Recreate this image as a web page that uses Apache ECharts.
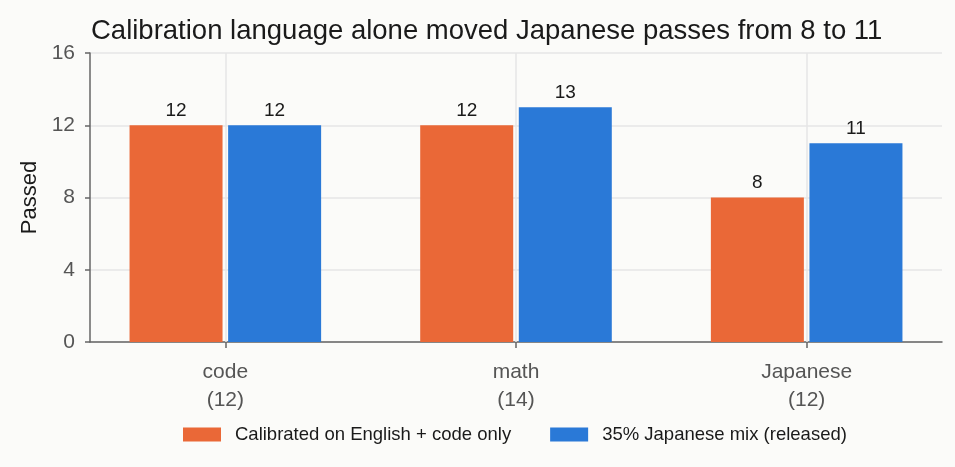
<!DOCTYPE html>
<html>
<head>
<meta charset="utf-8">
<script src="https://cdn.jsdelivr.net/npm/echarts@6/dist/echarts.min.js"></script>
<style>
html, body { margin: 0; padding: 0; background: #fbfbf9; }
#chart { width: 955px; height: 467px; }
</style>
</head>
<body>
<div id="chart"></div>
<script>
// values
var categories = ["code\n(12)", "math\n(14)", "Japanese\n(12)"];
var seriesNames = ["Calibrated on English + code only", "35% Japanese mix (released)"];
var englishOnly = [12, 12, 8];
var japaneseMix = [12, 13, 11];
var yTicks = { min: 0, max: 16, interval: 4 };

var font = "Liberation Sans";
var chart = echarts.init(document.getElementById("chart"));

var option = {
    backgroundColor: "#fbfbf9",
    textStyle: { fontFamily: font },
    title: {
        text: "Calibration language alone moved Japanese passes from 8 to 11",
        left: 91, top: 17, padding: 0,
        textStyle: { fontFamily: font, fontSize: 27.5, fontWeight: "normal", color: "#1a1a1a" }
    },
    legend: {
        left: 183, top: 425, padding: 0,
        itemWidth: 38, itemHeight: 14, itemGap: 39,
        icon: "rect",
        textStyle: { fontFamily: font, fontSize: 18.5, color: "#1a1a1a", padding: [0, 0, 0, 9] },
        data: seriesNames
    },
    // grid 0 carries the visible axes, grid 1 carries the bars (wider, like matplotlib margins)
    grid: [
        { left: 90, right: 13, top: 53, bottom: 125 },
        { left: 80, right: 3, top: 53, bottom: 125 }
    ],
    xAxis: [{
        gridIndex: 0, type: "category", data: categories,
        axisLine: { lineStyle: { color: "#666", width: 1.5 } },
        axisTick: { show: false }, axisLabel: { show: false }, splitLine: { show: false }
    }, {
        gridIndex: 1, type: "category", data: categories,
        axisLine: { show: false },
        axisTick: { show: true, alignWithLabel: true, length: 6, lineStyle: { color: "#666", width: 1.5 } },
        axisLabel: { fontFamily: font, fontSize: 21, color: "#555", margin: 16, lineHeight: 28 },
        splitLine: { show: false }
    }],
    yAxis: [{
        gridIndex: 0, type: "value",
        min: yTicks.min, max: yTicks.max, interval: yTicks.interval,
        name: "Passed", nameLocation: "middle", nameGap: 48,
        nameTextStyle: { fontFamily: font, fontSize: 22, color: "#1a1a1a" },
        axisLine: { show: true, lineStyle: { color: "#666", width: 1.5 } },
        axisTick: { show: true, length: 5, lineStyle: { color: "#666", width: 1.5 } },
        axisLabel: { fontFamily: font, fontSize: 21, color: "#555", margin: 15, padding: [4, 0, 0, 0] },
        splitLine: { lineStyle: { color: "#e6e6e6", width: 1.5 } }
    }, {
        gridIndex: 1, type: "value",
        min: yTicks.min, max: yTicks.max, interval: yTicks.interval,
        show: false, splitLine: { show: false }
    }],
    series: [{
        // carries only the vertical guide lines at the category centres
        type: "line", xAxisIndex: 1, yAxisIndex: 1, data: [],
        silent: true, z: 1,
        markLine: {
            silent: true, symbol: "none", label: { show: false },
            lineStyle: { color: "#e6e6e6", width: 1.5, type: "solid" },
            data: categories.map(function (c) { return { xAxis: c }; })
        }
    }, {
        name: seriesNames[0], type: "bar",
        xAxisIndex: 1, yAxisIndex: 1,
        data: englishOnly,
        barWidth: 93, barGap: "6%",
        itemStyle: { color: "#ea6837" },
        label: { show: true, position: "top", distance: 5, fontFamily: font, fontSize: 19, color: "#1a1a1a" }
    }, {
        name: seriesNames[1], type: "bar",
        xAxisIndex: 1, yAxisIndex: 1,
        data: japaneseMix,
        barWidth: 93, barGap: "6%",
        itemStyle: { color: "#2a79d7" },
        label: { show: true, position: "top", distance: 5, fontFamily: font, fontSize: 19, color: "#1a1a1a" }
    }]
};
chart.setOption(option);
</script>
</body>
</html>
